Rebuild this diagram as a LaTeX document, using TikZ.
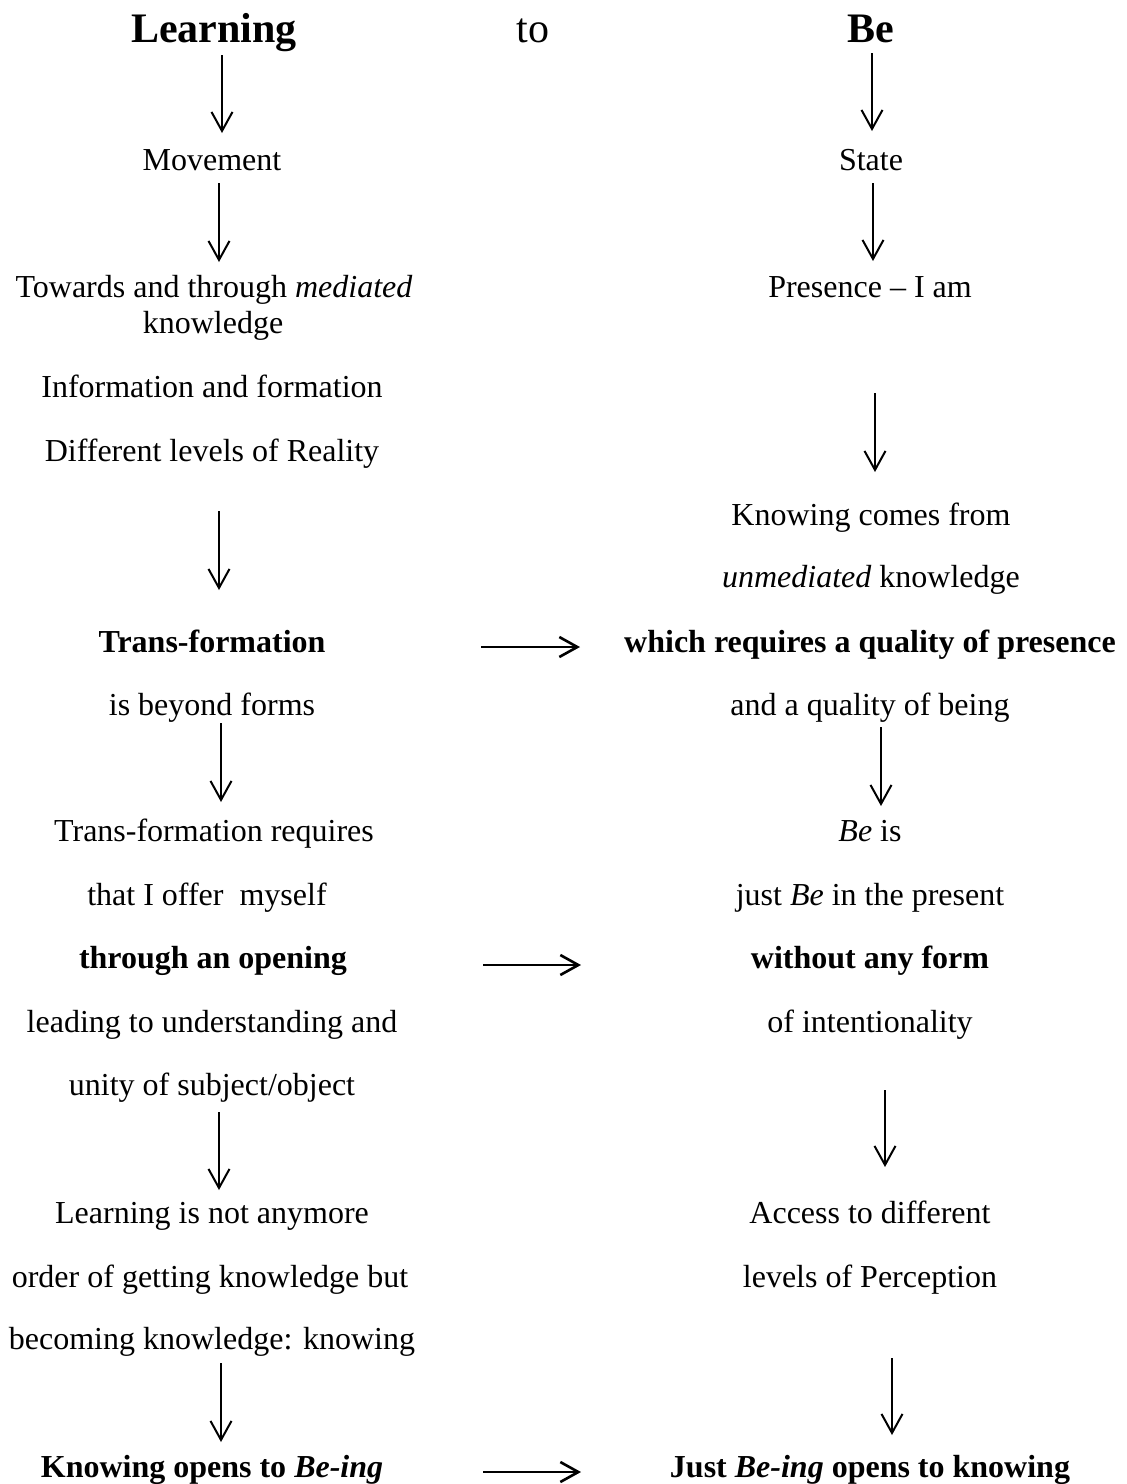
\documentclass[tikz,border=0pt]{standalone}
\usepackage{fontspec}
\setmainfont{Liberation Serif}
\usetikzlibrary{arrows.meta}
\begin{document}
\begin{tikzpicture}[x=0.5pt,y=-0.5pt,
  txt/.style={anchor=base,inner sep=0pt,font=\fontsize{16}{19}\selectfont},
  btxt/.style={txt,font=\fontsize{16}{19}\selectfont\bfseries},
  head/.style={anchor=base,inner sep=0pt,font=\fontsize{21}{25}\selectfont},
  arr/.style={line width=1pt,-{Straight Barb[length=9.5pt,width=10.5pt,line width=1pt]}},
  harr/.style={line width=1.4pt,-{Straight Barb[length=9pt,width=10pt,line width=1.3pt]}}]
\useasboundingbox (0,0) rectangle (1126,1484);
% header
\node[head,font=\fontsize{21}{25}\selectfont\bfseries] (learning) at (214,42) {Learning};
\node[head] (to) at (533,42) {to};
\node[head,font=\fontsize{21}{25}\selectfont\bfseries] (be) at (871,42) {Be};
% left column
\node[txt] (movement) at (212,170) {Movement};
\node[txt] (towards) at (214,297) {Towards and through \textit{mediated}};
\node[txt] (knowl) at (213,333) {knowledge};
\node[txt] (info) at (212,397) {Information and formation};
\node[txt] (levels) at (212,461) {Different levels of Reality};
\node[btxt] (transf) at (212,652) {Trans-formation};
\node[txt] (beyond) at (212,715) {is beyond forms};
\node[txt] (treq) at (214,841) {Trans-formation requires};
\node[txt] (offer) at (207,905) {that I offer~ myself};
\node[btxt] (opening) at (213,968) {through an opening};
\node[txt] (leading) at (212,1032) {leading to understanding and};
\node[txt] (unity) at (212,1095) {unity of subject/object};
\node[txt] (lnot) at (212,1223) {Learning is not anymore};
\node[txt] (order) at (210,1287) {order of getting knowledge but};
\node[txt] (becoming) at (212,1349) {becoming knowledge: knowing};
\node[btxt] (kopens) at (212,1477) {Knowing opens to \textit{Be-ing}};
% right column
\node[txt] (state) at (871,170) {State};
\node[txt] (presence) at (870,297) {Presence -- I am};
\node[txt] (kcomes) at (871,525) {Knowing comes from};
\node[txt] (unmed) at (871,587) {\textit{unmediated} knowledge};
\node[btxt] (which) at (870,652) {which requires a quality of presence};
\node[txt] (andq) at (870,715) {and a quality of being};
\node[txt] (beis) at (870,841) {\textit{Be} is};
\node[txt] (just) at (870,905) {just \textit{Be} in the present};
\node[btxt] (without) at (870,968) {without any form};
\node[txt] (intent) at (870,1032) {of intentionality};
\node[txt] (access) at (870,1223) {Access to different};
\node[txt] (perc) at (870,1287) {levels of Perception};
\node[btxt] (jbeing) at (870,1477) {Just \textit{Be-ing} opens to knowing};
% arrow endpoints
\coordinate (l1s) at (222,55);   \coordinate (l1e) at (222,133);
\coordinate (r1s) at (872,53);   \coordinate (r1e) at (872,131);
\coordinate (l2s) at (219,183);  \coordinate (l2e) at (219,262);
\coordinate (r2s) at (873,183);  \coordinate (r2e) at (873,261);
\coordinate (r3s) at (875,393);  \coordinate (r3e) at (875,472);
\coordinate (l3s) at (219,511);  \coordinate (l3e) at (219,590);
\coordinate (l4s) at (221,723);  \coordinate (l4e) at (221,802);
\coordinate (r4s) at (881,727);  \coordinate (r4e) at (881,806);
\coordinate (l5s) at (219,1112); \coordinate (l5e) at (219,1190);
\coordinate (r5s) at (885,1090); \coordinate (r5e) at (885,1167);
\coordinate (l6s) at (221,1363); \coordinate (l6e) at (221,1442);
\coordinate (r6s) at (892,1358); \coordinate (r6e) at (892,1435);
\coordinate (h1s) at (481,647);  \coordinate (h1e) at (580,647);
\coordinate (h2s) at (483,965);  \coordinate (h2e) at (581,965);
\coordinate (h3s) at (483,1472); \coordinate (h3e) at (581,1472);
\foreach \a in {l1,r1,l2,r2,r3,l3,l4,r4,l5,r5,l6,r6}
  \draw[arr] (\a s) -- (\a e);
\foreach \a in {h1,h2,h3}
  \draw[harr] (\a s) -- (\a e);
\end{tikzpicture}
\end{document}
